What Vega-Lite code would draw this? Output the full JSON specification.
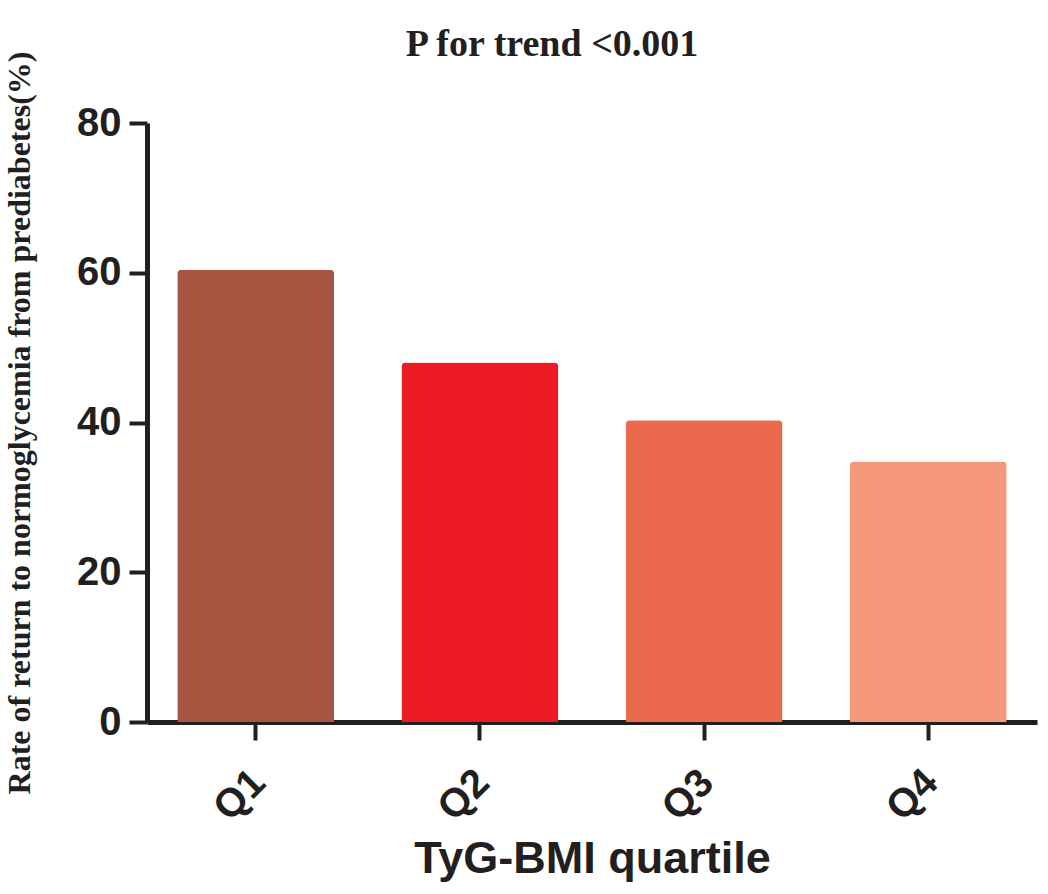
{
  "$schema": "https://vega.github.io/schema/vega-lite/v6.json",
  "width": 890,
  "height": 599,
  "autosize": "none",
  "padding": {"left": 147, "top": 123, "right": 11, "bottom": 172},
  "background": "white",
  "title": {
    "text": "P for trend <0.001",
    "font": "Liberation Serif",
    "fontSize": 38,
    "fontWeight": "bold",
    "color": "#231F20",
    "anchor": "middle",
    "dx": -40,
    "offset": -13
  },
  "data": {
    "values": [
      {"quartile": "Q1", "rate": 60.4},
      {"quartile": "Q2", "rate": 48.0},
      {"quartile": "Q3", "rate": 40.3},
      {"quartile": "Q4", "rate": 34.8}
    ]
  },
  "mark": {"type": "bar", "cornerRadiusTopLeft": 4, "cornerRadiusTopRight": 4},
  "encoding": {
    "x": {
      "field": "quartile",
      "type": "nominal",
      "sort": null,
      "scale": {"paddingInner": 0.3, "paddingOuter": 0.135},
      "title": "TyG-BMI quartile",
      "axis": {
        "labelAngle": -45,
        "labelFont": "Liberation Sans",
        "labelFontSize": 40,
        "labelFontWeight": "bold",
        "labelColor": "#231F20",
        "labelPadding": 22,
        "labelOffset": -11,
        "tickSize": 18,
        "tickWidth": 4,
        "tickColor": "#231F20",
        "domainWidth": 5,
        "domainColor": "#231F20",
        "titleFont": "Liberation Sans",
        "titleFontSize": 45,
        "titleFontWeight": "bold",
        "titleColor": "#231F20",
        "titlePadding": 8
      }
    },
    "y": {
      "field": "rate",
      "type": "quantitative",
      "scale": {"domain": [0, 80]},
      "title": "Rate of return to normoglycemia from prediabetes(%)",
      "axis": {
        "values": [0, 20, 40, 60, 80],
        "grid": false,
        "labelFont": "Liberation Sans",
        "labelFontSize": 40,
        "labelFontWeight": "bold",
        "labelColor": "#231F20",
        "labelPadding": 8,
        "tickSize": 18,
        "tickWidth": 4,
        "tickColor": "#231F20",
        "domainWidth": 5,
        "domainColor": "#231F20",
        "titleFont": "Liberation Serif",
        "titleFontSize": 32,
        "titleFontWeight": "bold",
        "titleColor": "#231F20",
        "titlePadding": 40
      }
    },
    "color": {
      "field": "quartile",
      "type": "nominal",
      "scale": {
        "domain": ["Q1", "Q2", "Q3", "Q4"],
        "range": ["#A65640", "#ED1C24", "#EB6A4D", "#F4977A"]
      },
      "legend": null
    }
  },
  "config": {"view": {"stroke": null}}
}
